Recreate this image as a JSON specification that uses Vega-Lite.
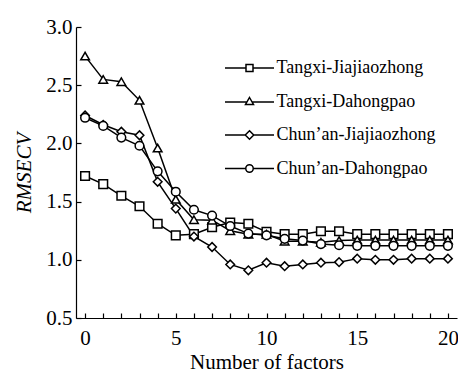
{
  "$schema": "https://vega.github.io/schema/vega-lite/v6.json",
  "autosize": {"type": "none"},
  "padding": {"left": 76, "top": 27, "right": 1, "bottom": 54},
  "width": 381,
  "height": 291,
  "background": "white",
  "config": {
    "view": {"stroke": null},
    "font": "Liberation Serif",
    "axis": {
      "grid": false,
      "domainColor": "black",
      "domainWidth": 1.2,
      "tickColor": "black",
      "tickWidth": 1.2,
      "labelColor": "black",
      "titleColor": "black",
      "labelFont": "Liberation Serif",
      "titleFont": "Liberation Serif",
      "labelFontSize": 21,
      "titleFontSize": 21,
      "titleFontWeight": "normal"
    },
    "legend": {
      "labelFont": "Liberation Serif",
      "labelFontSize": 18,
      "labelColor": "black"
    }
  },
  "datasets": {
    "rows": [
      {"series": "Tangxi-Jiajiaozhong", "n": 0, "v": 1.72},
      {"series": "Tangxi-Jiajiaozhong", "n": 1, "v": 1.65},
      {"series": "Tangxi-Jiajiaozhong", "n": 2, "v": 1.55},
      {"series": "Tangxi-Jiajiaozhong", "n": 3, "v": 1.46},
      {"series": "Tangxi-Jiajiaozhong", "n": 4, "v": 1.31},
      {"series": "Tangxi-Jiajiaozhong", "n": 5, "v": 1.21},
      {"series": "Tangxi-Jiajiaozhong", "n": 6, "v": 1.22},
      {"series": "Tangxi-Jiajiaozhong", "n": 7, "v": 1.28},
      {"series": "Tangxi-Jiajiaozhong", "n": 8, "v": 1.32},
      {"series": "Tangxi-Jiajiaozhong", "n": 9, "v": 1.31},
      {"series": "Tangxi-Jiajiaozhong", "n": 10, "v": 1.24},
      {"series": "Tangxi-Jiajiaozhong", "n": 11, "v": 1.22},
      {"series": "Tangxi-Jiajiaozhong", "n": 12, "v": 1.22},
      {"series": "Tangxi-Jiajiaozhong", "n": 13, "v": 1.245},
      {"series": "Tangxi-Jiajiaozhong", "n": 14, "v": 1.245},
      {"series": "Tangxi-Jiajiaozhong", "n": 15, "v": 1.22},
      {"series": "Tangxi-Jiajiaozhong", "n": 16, "v": 1.22},
      {"series": "Tangxi-Jiajiaozhong", "n": 17, "v": 1.22},
      {"series": "Tangxi-Jiajiaozhong", "n": 18, "v": 1.22},
      {"series": "Tangxi-Jiajiaozhong", "n": 19, "v": 1.22},
      {"series": "Tangxi-Jiajiaozhong", "n": 20, "v": 1.22},
      {"series": "Tangxi-Dahongpao", "n": 0, "v": 2.75},
      {"series": "Tangxi-Dahongpao", "n": 1, "v": 2.55},
      {"series": "Tangxi-Dahongpao", "n": 2, "v": 2.53},
      {"series": "Tangxi-Dahongpao", "n": 3, "v": 2.37},
      {"series": "Tangxi-Dahongpao", "n": 4, "v": 1.96},
      {"series": "Tangxi-Dahongpao", "n": 5, "v": 1.52},
      {"series": "Tangxi-Dahongpao", "n": 6, "v": 1.345},
      {"series": "Tangxi-Dahongpao", "n": 7, "v": 1.34},
      {"series": "Tangxi-Dahongpao", "n": 8, "v": 1.25},
      {"series": "Tangxi-Dahongpao", "n": 9, "v": 1.22},
      {"series": "Tangxi-Dahongpao", "n": 10, "v": 1.22},
      {"series": "Tangxi-Dahongpao", "n": 11, "v": 1.16},
      {"series": "Tangxi-Dahongpao", "n": 12, "v": 1.16},
      {"series": "Tangxi-Dahongpao", "n": 13, "v": 1.15},
      {"series": "Tangxi-Dahongpao", "n": 14, "v": 1.165},
      {"series": "Tangxi-Dahongpao", "n": 15, "v": 1.17},
      {"series": "Tangxi-Dahongpao", "n": 16, "v": 1.17},
      {"series": "Tangxi-Dahongpao", "n": 17, "v": 1.17},
      {"series": "Tangxi-Dahongpao", "n": 18, "v": 1.17},
      {"series": "Tangxi-Dahongpao", "n": 19, "v": 1.17},
      {"series": "Tangxi-Dahongpao", "n": 20, "v": 1.17},
      {"series": "Chun’an-Jiajiaozhong", "n": 0, "v": 2.24},
      {"series": "Chun’an-Jiajiaozhong", "n": 1, "v": 2.16},
      {"series": "Chun’an-Jiajiaozhong", "n": 2, "v": 2.1},
      {"series": "Chun’an-Jiajiaozhong", "n": 3, "v": 2.07},
      {"series": "Chun’an-Jiajiaozhong", "n": 4, "v": 1.67},
      {"series": "Chun’an-Jiajiaozhong", "n": 5, "v": 1.44},
      {"series": "Chun’an-Jiajiaozhong", "n": 6, "v": 1.2},
      {"series": "Chun’an-Jiajiaozhong", "n": 7, "v": 1.11},
      {"series": "Chun’an-Jiajiaozhong", "n": 8, "v": 0.96},
      {"series": "Chun’an-Jiajiaozhong", "n": 9, "v": 0.91},
      {"series": "Chun’an-Jiajiaozhong", "n": 10, "v": 0.975},
      {"series": "Chun’an-Jiajiaozhong", "n": 11, "v": 0.945},
      {"series": "Chun’an-Jiajiaozhong", "n": 12, "v": 0.96},
      {"series": "Chun’an-Jiajiaozhong", "n": 13, "v": 0.975},
      {"series": "Chun’an-Jiajiaozhong", "n": 14, "v": 0.98},
      {"series": "Chun’an-Jiajiaozhong", "n": 15, "v": 1.01},
      {"series": "Chun’an-Jiajiaozhong", "n": 16, "v": 1.0},
      {"series": "Chun’an-Jiajiaozhong", "n": 17, "v": 1.0},
      {"series": "Chun’an-Jiajiaozhong", "n": 18, "v": 1.01},
      {"series": "Chun’an-Jiajiaozhong", "n": 19, "v": 1.01},
      {"series": "Chun’an-Jiajiaozhong", "n": 20, "v": 1.01},
      {"series": "Chun’an-Dahongpao", "n": 0, "v": 2.22},
      {"series": "Chun’an-Dahongpao", "n": 1, "v": 2.15},
      {"series": "Chun’an-Dahongpao", "n": 2, "v": 2.05},
      {"series": "Chun’an-Dahongpao", "n": 3, "v": 1.98},
      {"series": "Chun’an-Dahongpao", "n": 4, "v": 1.76},
      {"series": "Chun’an-Dahongpao", "n": 5, "v": 1.585},
      {"series": "Chun’an-Dahongpao", "n": 6, "v": 1.43},
      {"series": "Chun’an-Dahongpao", "n": 7, "v": 1.38},
      {"series": "Chun’an-Dahongpao", "n": 8, "v": 1.29},
      {"series": "Chun’an-Dahongpao", "n": 9, "v": 1.225},
      {"series": "Chun’an-Dahongpao", "n": 10, "v": 1.21},
      {"series": "Chun’an-Dahongpao", "n": 11, "v": 1.18},
      {"series": "Chun’an-Dahongpao", "n": 12, "v": 1.165},
      {"series": "Chun’an-Dahongpao", "n": 13, "v": 1.135},
      {"series": "Chun’an-Dahongpao", "n": 14, "v": 1.125},
      {"series": "Chun’an-Dahongpao", "n": 15, "v": 1.12},
      {"series": "Chun’an-Dahongpao", "n": 16, "v": 1.12},
      {"series": "Chun’an-Dahongpao", "n": 17, "v": 1.12},
      {"series": "Chun’an-Dahongpao", "n": 18, "v": 1.12},
      {"series": "Chun’an-Dahongpao", "n": 19, "v": 1.12},
      {"series": "Chun’an-Dahongpao", "n": 20, "v": 1.12}
    ]
  },
  "data": {"name": "rows"},
  "encoding": {
    "x": {
      "field": "n",
      "type": "quantitative",
      "scale": {"domain": [-0.5, 20.5], "nice": false, "zero": false},
      "axis": {
        "title": "Number of factors",
        "values": [0,1,2,3,4,5,6,7,8,9,10,11,12,13,14,15,16,17,18,19,20],
        "labelExpr": "datum.value % 5 === 0 ? datum.label : ''",
        "tickSize": -5,
        "labelPadding": 14,
        "titlePadding": 3,
        "labelFlush": false
      }
    },
    "y": {
      "field": "v",
      "type": "quantitative",
      "scale": {"domain": [0.5, 3.0], "nice": false, "zero": false},
      "axis": {
        "title": "RMSECV",
        "titleFontStyle": "italic",
        "values": [0.5, 1.0, 1.5, 2.0, 2.5, 3.0],
        "format": ".1f",
        "tickSize": -5,
        "labelPadding": 9,
        "titlePadding": 11,
        "labelFlush": false
      }
    }
  },
  "layer": [
    {
      "mark": {"type": "line", "color": "black", "strokeWidth": 1.5},
      "encoding": {"detail": {"field": "series"}}
    },
    {
      "mark": {"type": "point", "filled": true, "fill": "white", "stroke": "black", "strokeWidth": 1.5, "size": 75, "opacity": 1},
      "encoding": {
        "shape": {
          "field": "series",
          "type": "nominal",
          "scale": {
            "domain": ["Tangxi-Jiajiaozhong", "Tangxi-Dahongpao", "Chun’an-Jiajiaozhong", "Chun’an-Dahongpao"],
            "range": ["square", "triangle-up", "diamond", "circle"]
          },
          "legend": null
        }
      }
    },
    {
      "transform": [{"filter": "false"}],
      "mark": {"type": "point", "filled": false, "stroke": "black", "strokeWidth": 1.5, "opacity": 1},
      "encoding": {
        "shape": {
          "field": "series",
          "type": "nominal",
          "scale": {
            "domain": ["Tangxi-Jiajiaozhong", "Tangxi-Dahongpao", "Chun’an-Jiajiaozhong", "Chun’an-Dahongpao"],
            "range": [
              "M-4.9,0L-0.7,0M0.7,0L4.9,0M-0.7,-0.7L0.7,-0.7L0.7,0.7L-0.7,0.7Z",
              "M-4.9,0.1L-0.6,0.1M0.6,0.1L4.9,0.1M0,-0.8L0.8,0.6L-0.8,0.6Z",
              "M-4.9,0L-0.85,0M0.85,0L4.9,0M0,-0.85L0.85,0L0,0.85L-0.85,0Z",
              "M-4.9,0L-0.75,0M0.75,0L4.9,0M0.75,0A0.75,0.75,0,1,1,-0.75,0A0.75,0.75,0,1,1,0.75,0Z"
            ]
          },
          "legend": {
            "title": null,
            "orient": "none",
            "legendX": 164.5,
            "legendY": 32,
            "padding": 0,
            "symbolSize": 100,
            "labelOffset": 18,
            "rowPadding": 15.5,
            "symbolStrokeColor": "black",
            "symbolFillColor": "white",
            "symbolStrokeWidth": 1.5,
            "symbolOpacity": 1
          }
        }
      }
    }
  ],
  "resolve": {"scale": {"shape": "independent"}, "legend": {"shape": "independent"}}
}
